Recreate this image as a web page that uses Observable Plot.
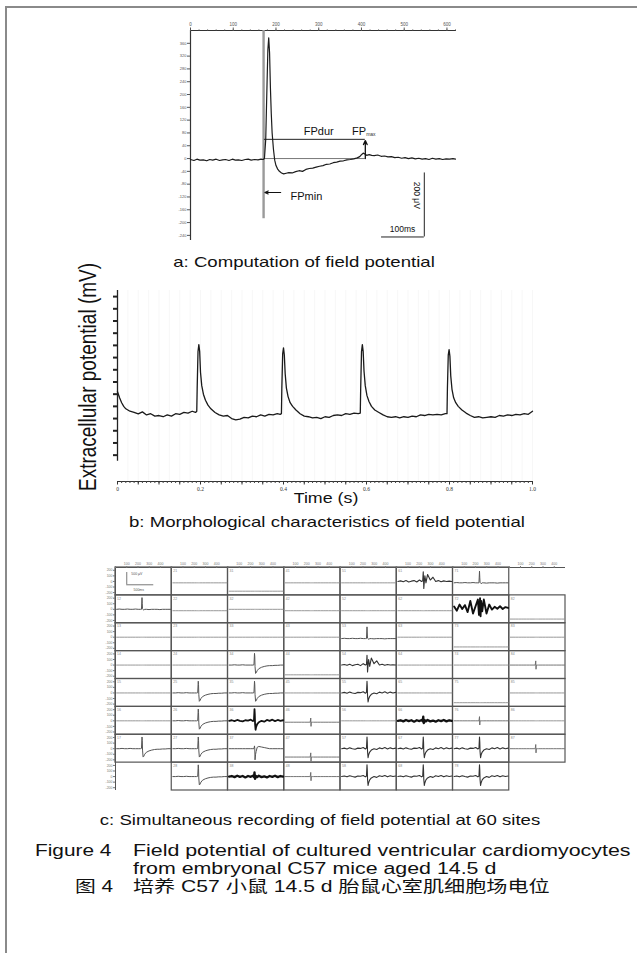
<!DOCTYPE html>
<html><head><meta charset="utf-8">
<script src="https://cdn.jsdelivr.net/npm/d3@7"></script>
<script src="https://cdn.jsdelivr.net/npm/@observablehq/plot@0.6"></script>
<style>
body{margin:0;background:#fff}
#page{position:relative;width:637px;height:953px;overflow:hidden;background:#fff;font-family:"Liberation Sans",Arial,"Noto Sans CJK SC",sans-serif;color:#111}
.abs{position:absolute}
.anchor{position:absolute;width:0;height:0}
.anchor > span{position:absolute;left:0;top:0;white-space:nowrap;line-height:1.15}
</style></head><body>
<div id="page">
  <div class="abs" style="left:5px;top:6px;width:660px;height:980px;border:2px solid #8a8a8a;box-sizing:border-box"></div>
  <div id="pa" class="abs" style="left:150px;top:10px"></div>
  <div id="pb" class="abs" style="left:70px;top:280px"></div>
  <div id="pc" class="abs" style="left:95px;top:553px"></div>
</div>
<script>
// ---------- Panel a : single field potential (ms, µV) ----------
const traceA = [
[0,-3],[8,-6],[15,-2],[22,-5],[30,-4],[38,-7],[45,-3],[52,-5],[60,-2],[68,-6],[75,-4],[82,-3],[90,-6],[98,-2],[105,-5],[112,-4],[120,-6],[128,-3],[135,-2],[142,-5],[150,-3],[158,-4],[165,-2],[170,-3],
[173,0],[176,60],[179,230],[181,340],[183,377],[185,330],[187,220],[189,140],[191,80],[194,30],[197,-5],[200,-22],[204,-33],[208,-40],[213,-45],[218,-48],[224,-46],[230,-44],[238,-45],[246,-41],[254,-38],[262,-40],[270,-34],[278,-31],[286,-30],[294,-27],[302,-24],[310,-22],[318,-18],[326,-17],[334,-13],[342,-11],[350,-8],[358,-7],[366,-4],[374,-3],[382,-1],[390,2],[396,6],[400,12],[404,17],[408,14],[412,10],[418,12],[424,10],[430,9],[438,11],[446,7],[454,8],[462,5],[470,6],[478,3],[486,4],[494,1],[502,3],[510,0],[518,2],[526,-1],[534,1],[542,-2],[550,0],[558,-3],[566,1],[574,-2],[582,0],[590,-3],[598,-1],[606,-2],[614,0],[620,-2]
];
const stimTime = 171;          // ms, stimulus marker
const stimBottom = -188;       // µV
const fpdurStart = 173, fpdurEnd = 409, fpdurLevel = 60;
const fpminLevel = -106, fpminFrom = 211, fpminTo = 174;
const scaleBarUV = [-245, -45], scaleBarMs = [447, 547];
const aTopTicks = [0,100,200,300,400,500,600];
const aTopLabels = ["0","100","200","300","400","500","600"];
const aTopMinor = [0,20,40,60,80,100,120,140,160,180,200,220,240,260,280,300,320,340,360,380,400,420,440,460,480,500,520,540,560,580,600,620];
const aLeftTicks = [-240,-200,-160,-120,-80,-40,0,40,80,120,160,200,240,280,320,360];

// ---------- Panel b : 1 s recording (s, mV) ----------
const traceB = [
[0,0.17],[0.005,0.12],[0.01,0.08],[0.015,0.05],[0.02,0.03],[0.025,0.02],[0.03,0.01],[0.04,0.0],[0.05,-0.012],[0.06,0.005],[0.07,-0.02],[0.08,-0.01],[0.09,-0.03],[0.10,-0.025],[0.11,-0.035],[0.12,-0.02],[0.13,-0.03],[0.14,-0.01],[0.15,-0.015],[0.16,0.0],[0.17,-0.005],[0.18,0.01],[0.188,0.0],[0.191,0.01],
[0.192,0.2],[0.194,0.5],[0.196,0.556],[0.198,0.5],[0.200,0.33],[0.203,0.22],[0.207,0.15],[0.212,0.1],[0.218,0.06],[0.225,0.03],[0.235,0.0],[0.245,-0.02],[0.255,-0.03],[0.265,-0.025],[0.275,-0.05],[0.285,-0.06],[0.295,-0.055],[0.305,-0.04],[0.315,-0.045],[0.325,-0.03],[0.335,-0.035],[0.345,-0.02],[0.355,-0.03],[0.365,-0.015],[0.375,-0.02],[0.385,-0.01],[0.392,-0.015],[0.395,-0.01],
[0.396,0.2],[0.398,0.48],[0.400,0.53],[0.402,0.47],[0.404,0.32],[0.407,0.2],[0.411,0.13],[0.416,0.08],[0.422,0.05],[0.43,0.02],[0.44,-0.01],[0.45,-0.03],[0.46,-0.035],[0.47,-0.045],[0.48,-0.04],[0.49,-0.05],[0.50,-0.035],[0.51,-0.04],[0.52,-0.025],[0.53,-0.02],[0.54,-0.025],[0.55,-0.01],[0.56,-0.015],[0.57,-0.005],[0.58,-0.01],[0.585,-0.005],
[0.586,0.2],[0.588,0.5],[0.590,0.556],[0.592,0.5],[0.594,0.34],[0.597,0.22],[0.601,0.14],[0.606,0.09],[0.612,0.05],[0.62,0.02],[0.63,0.0],[0.64,-0.02],[0.65,-0.035],[0.66,-0.04],[0.67,-0.035],[0.68,-0.045],[0.69,-0.035],[0.70,-0.04],[0.71,-0.03],[0.72,-0.035],[0.73,-0.02],[0.74,-0.025],[0.75,-0.015],[0.76,-0.02],[0.77,-0.015],[0.78,-0.02],[0.79,-0.01],[0.794,-0.01],
[0.795,0.2],[0.797,0.47],[0.799,0.515],[0.801,0.46],[0.803,0.3],[0.806,0.19],[0.81,0.12],[0.815,0.08],[0.821,0.05],[0.83,0.02],[0.84,-0.005],[0.85,-0.025],[0.86,-0.04],[0.87,-0.035],[0.88,-0.045],[0.89,-0.04],[0.90,-0.035],[0.91,-0.04],[0.92,-0.025],[0.93,-0.03],[0.94,-0.02],[0.95,-0.025],[0.96,-0.015],[0.97,-0.02],[0.98,-0.01],[0.99,-0.015],[1.0,0.01]
];
const bXLabels = [0,0.2,0.4,0.6,0.8,1.0];
const bXText = ["0","0.2","0.4","0.6","0.8","1.0"];
const bMajor = d3.range(0, 1.0001, 0.05);
const bMinor = d3.range(0, 1.0001, 0.01);
const bGrid = d3.range(0.025, 1.0001, 0.025);
const bYTicks = d3.range(-0.35, 0.96, 0.1);

// ---------- Panel c : 60-site MEA recording ----------
const cX = [0,.05,.1,.15,.2,.25,.3,.35,.4,.44,.46,.47,.475,.48,.49,.5,.52,.55,.6,.65,.7,.75,.8,.85,.9,.95,1];
const waveFlat     = [0,0,0,0,0,0,0,0,0,0,0,0,0,0,0,0,0,0,0,0,0,0,0,0,0,0,0];
const waveSpikeUp  = [0,.01,0,0,.01,0,0,.01,0,0,0,.42,.2,.02,0,-.03,0,0,-.01,0,0,0,-.01,0,0,0,0];
const waveSpikeDip = [0,0,.01,0,0,.01,0,0,0,0,.01,.42,.3,-.05,-.3,-.28,-.2,-.13,-.08,-.05,-.03,-.02,-.02,-.01,-.01,0,0];
const waveNoisyDip = [0,.02,-.01,.03,0,-.02,.02,.01,.04,-.01,.02,.42,.25,-.1,-.32,-.22,-.12,-.05,0,-.03,.03,.0,.04,-.01,.03,.0,.02];
const waveBurst    = [0,.02,-.01,.03,-.02,.01,.03,-.02,.05,0,.02,.35,.1,-.25,0,.2,-.05,.25,.05,.15,0,.03,-.01,.02,0,.01,0];
const waveHeavy    = [.05,-.1,.12,-.04,.1,-.15,.25,-.2,.08,.3,-.25,.15,-.05,.35,-.3,.25,-.12,.3,-.2,.12,-.06,.04,-.03,.06,-.04,.03,0];
const waveBand     = [0,.02,-.02,.03,-.01,.02,-.03,.02,-.01,.03,-.02,.15,.02,-.08,-.03,.02,-.02,.03,-.02,.01,-.03,.02,-.01,.03,-.02,.02,0];
const waveTick     = [0,0,0,0,0,0,0,0,0,0,0,.15,-.15,0,0,0,0,0,0,0,0,0,0,0,0,0,0];
const waveSpikeDown= [0,0,0,0,0,0,0,0,0,0,0,.1,0,-.4,-.2,-.1,.05,.08,.06,.04,.02,0,0,0,0,0,0];
// [row, col, kind, baseline fraction of cell from top]
const sites = [
[1,2,"flat",.55],[1,3,"flat",.85],[1,4,"flat",.55],[1,5,"flat",.55],[1,6,"burst",.5],[1,7,"spikeUp",.55],
[2,1,"spikeUp",.5],[2,2,"flat",.55],[2,3,"flat",.5],[2,4,"flat",.55],[2,5,"flat",.55],[2,6,"flat",.55],[2,7,"heavy",.45],[2,8,"flat",.85],
[3,1,"flat",.5],[3,2,"flat",.5],[3,3,"flat",.5],[3,4,"flat",.5],[3,5,"spikeUp",.55],[3,6,"flat",.5],[3,7,"flat",.85],[3,8,"flat",.5],
[4,1,"flat",.5],[4,2,"flat",.5],[4,3,"spikeDip",.5],[4,4,"flat",.85],[4,5,"burst",.5],[4,6,"flat",.5],[4,7,"flat",.5],[4,8,"tick",.5],
[5,1,"flat",.5],[5,2,"spikeDip",.5],[5,3,"spikeDip",.5],[5,4,"flat",.5],[5,5,"noisyDip",.5],[5,6,"flat",.5],[5,7,"flat",.85],[5,8,"flat",.5],
[6,1,"flat",.5],[6,2,"spikeDip",.5],[6,3,"thickDip",.5],[6,4,"tick",.55],[6,5,"flat",.5],[6,6,"thickBand",.5],[6,7,"tick",.5],[6,8,"flat",.5],
[7,1,"spikeDip",.5],[7,2,"spikeDip",.5],[7,3,"spikeDown",.5],[7,4,"tick",.8],[7,5,"noisyDip",.5],[7,6,"noisyDip",.5],[7,7,"noisyDip",.5],[7,8,"tick",.5],
[8,2,"spikeDip",.5],[8,3,"thickBand",.5],[8,4,"tick",.5],[8,5,"noisyDip",.5],[8,6,"noisyDip",.5],[8,7,"noisyDip",.5]
];
const legendCell = [1,1];
const cTopText = ["", "100", "200", "300", "400"];
const cLeftText = ["200", "100", "0", "-100", "-200"];

// ---------- Captions ----------
const capA = "a: Computation of field potential";
const capB = "b: Morphological characteristics of field potential";
const capC = "c: Simultaneous recording of field potential at 60 sites";
const yLabB = "Extracellular potential (mV)";
const xLabB = "Time (s)";
const figEn = ["Figure 4", "Field potential of cultured ventricular cardiomyocytes", "from embryonal C57 mice aged 14.5 d"];
const figZh = ["图 4", "培养 C57 小鼠 14.5 d 胎鼠心室肌细胞场电位"];

// ================= drawing =================
const page = document.getElementById("page");
function label(txt, x, y, o = {}) {
  const a = document.createElement("div");
  a.className = "anchor"; a.style.left = x + "px"; a.style.top = y + "px";
  const s = document.createElement("span");
  s.textContent = txt;
  s.style.fontSize = (o.size || 15) + "px";
  if (o.family) s.style.fontFamily = o.family;
  if (o.color) s.style.color = o.color;
  const sx = o.sx ?? 1.24;
  if (o.rotate) {
    s.style.transformOrigin = "50% 50%";
    s.style.transform = `translate(-50%,-50%) rotate(${o.rotate}deg) scaleY(${sx})`;
  } else if (o.align === "start") {
    s.style.transformOrigin = "0 50%";
    s.style.transform = `translateY(-50%) scaleX(${sx})`;
  } else {
    s.style.transformOrigin = "50% 50%";
    s.style.transform = `translate(-50%,-50%) scaleX(${sx})`;
  }
  a.appendChild(s); page.appendChild(a);
}

const baseStyle = {background: "transparent", overflow: "visible", fontFamily: "Liberation Sans, Arial, sans-serif", color: "#222"};

// Panel a
const pa = Plot.plot({
  width: 320, height: 240, marginLeft: 40, marginRight: 15, marginTop: 20, marginBottom: 10,
  x: {domain: [0, 620]}, y: {domain: [-256, 400]},
  style: baseStyle,
  marks: [
    Plot.ruleY([400], {stroke: "#333", strokeWidth: 1.2}),
    Plot.ruleX([0], {y1: -256, y2: 400, stroke: "#333", strokeWidth: 1.2}),
    Plot.axisX({anchor: "top", ticks: aTopMinor, tickSize: 1.5, tickFormat: () => "", label: null, color: "#444"}),
    Plot.axisX({anchor: "top", ticks: aTopTicks, tickSize: 3.5, tickPadding: 1, fontSize: 4.5, tickFormat: d => aTopLabels[aTopTicks.indexOf(d)], label: null, color: "#555"}),
    Plot.axisY({anchor: "left", ticks: aLeftTicks, tickSize: 3, tickPadding: 1, fontSize: 4, tickFormat: d => String(d), label: null, color: "#555"}),
    Plot.ruleX([stimTime], {y1: stimBottom, y2: 400, stroke: "#9a9a9a", strokeWidth: 2.4}),
    Plot.ruleY([0], {x1: fpdurStart, x2: fpdurEnd, stroke: "#555", strokeWidth: 0.8}),
    Plot.ruleY([fpdurLevel], {x1: fpdurStart, x2: fpdurEnd, stroke: "#222", strokeWidth: 1}),
    Plot.line(traceA, {x: d => d[0], y: d => d[1], stroke: "#1c1c1c", strokeWidth: 1.2}),
    Plot.arrow([fpdurEnd], {x1: fpdurEnd, y1: 0, x2: fpdurEnd, y2: fpdurLevel - 4, headLength: 5, headAngle: 50, stroke: "#111", strokeWidth: 1.3}),
    Plot.arrow([fpminLevel], {x1: fpminFrom, y1: fpminLevel, x2: fpminTo, y2: fpminLevel, headLength: 5, headAngle: 50, stroke: "#111", strokeWidth: 1.1}),
    Plot.text(["FPdur"], {x: 300, y: 84, fontSize: 11, fill: "#111"}),
    Plot.text(["FP"], {x: 378, y: 84, fontSize: 11, textAnchor: "start", fill: "#111"}),
    Plot.text(["max"], {x: 411, y: 76, fontSize: 5, textAnchor: "start", fill: "#333"}),
    Plot.text(["FPmin"], {x: 234, y: -118, fontSize: 11, textAnchor: "start", fill: "#111"}),
    Plot.ruleX([scaleBarMs[1]], {y1: scaleBarUV[0], y2: scaleBarUV[1], stroke: "#222", strokeWidth: 1}),
    Plot.ruleY([scaleBarUV[0]], {x1: scaleBarMs[0], x2: scaleBarMs[1], stroke: "#222", strokeWidth: 1}),
    Plot.text(["200 μV"], {x: 530, y: -115, rotate: 90, fontSize: 8.5, fill: "#111"}),
    Plot.text(["100ms"], {x: 496, y: -222, fontSize: 8.5, fill: "#111"})
  ]
});
document.getElementById("pa").appendChild(pa);

// Panel b
const pb = Plot.plot({
  width: 480, height: 215, marginLeft: 47, marginRight: 18, marginTop: 10, marginBottom: 14,
  x: {domain: [0, 1]}, y: {domain: [-0.566, 1.0]},
  style: baseStyle,
  marks: [
    Plot.ruleX(bGrid, {y1: -0.566, y2: 1.0, stroke: "#f5f5f5", strokeWidth: 0.8}),
    Plot.ruleX([0], {y1: -0.4, y2: 1.0, stroke: "#222", strokeWidth: 1.3}),
    Plot.axisY({anchor: "left", ticks: bYTicks, tickSize: 4, tickFormat: () => "", strokeWidth: 2, label: null, color: "#222"}),
    Plot.ruleY([-0.566], {stroke: "#333", strokeWidth: 1}),
    Plot.axisX({ticks: bMinor, tickSize: 2, tickFormat: () => "", label: null, color: "#444"}),
    Plot.axisX({ticks: bMajor, tickSize: 3.5, tickFormat: () => "", label: null, color: "#333"}),
    Plot.axisX({ticks: bXLabels, tickSize: 0, tickPadding: 6, fontSize: 5.5, fontFamily: "Liberation Serif, serif", tickFormat: d => bXText[bXLabels.indexOf(d)], label: null, color: "#333"}),
    Plot.line(traceB, {x: d => d[0], y: d => d[1], stroke: "#1a1a1a", strokeWidth: 1.3})
  ]
});
document.getElementById("pb").appendChild(pb);

// Panel c
const cStyles = {
  flat:      {tpl: waveFlat,      stroke: "#8c8c8c", w: 0.9},
  spikeUp:   {tpl: waveSpikeUp,   stroke: "#555",    w: 1},
  spikeDip:  {tpl: waveSpikeDip,  stroke: "#555",    w: 1},
  spikeDown: {tpl: waveSpikeDown, stroke: "#555",    w: 1},
  tick:      {tpl: waveTick,      stroke: "#666",    w: 0.9},
  noisyDip:  {tpl: waveNoisyDip,  stroke: "#333",    w: 1.1},
  burst:     {tpl: waveBurst,     stroke: "#333",    w: 1.1},
  heavy:     {tpl: waveHeavy,     stroke: "#111",    w: 1.9},
  thickBand: {tpl: waveBand,      stroke: "#111",    w: 2.3},
  thickDip:  {tpl: waveNoisyDip,  stroke: "#111",    w: 1.8}
};
const cLines = [];
sites.forEach(([row, col, kind, base]) => {
  cStyles[kind].tpl.forEach((v, i) => cLines.push({id: row * 10 + col, kind, x: col - 1 + 0.02 + cX[i] * 0.96, y: row - 1 + base - v}));
});
const framed = [legendCell, ...sites];
const cTopTicks = d3.range(0, 8, 0.2);
const cLeftTicks = d3.range(0, 8).flatMap(r => [0.1, 0.3, 0.5, 0.7, 0.9].map(f => r + f));
const pc = Plot.plot({
  width: 480, height: 242, marginLeft: 20, marginRight: 10, marginTop: 14, marginBottom: 5,
  x: {domain: [0, 8]}, y: {domain: [0, 8], reverse: true},
  style: baseStyle,
  marks: [
    Plot.rect(framed, {x1: d => d[1] - 1, x2: d => d[1], y1: d => d[0] - 1, y2: d => d[0], fill: "none", stroke: "#555", strokeWidth: 1.2}),
    Plot.ruleY([0], {stroke: "#555", strokeWidth: 1}),
    Plot.ruleX([0], {stroke: "#555", strokeWidth: 1}),
    Plot.axisX({anchor: "top", ticks: cTopTicks, tickSize: 2, tickPadding: 1, fontSize: 3.5, tickFormat: d => cTopText[Math.round((d % 1) * 5) % 5], label: null, color: "#777"}),
    Plot.axisY({anchor: "left", ticks: cLeftTicks, tickSize: 2, tickPadding: 1, fontSize: 3.5, tickFormat: d => cLeftText[Math.round(((d % 1) - 0.1) / 0.2)], label: null, color: "#777"}),
    Plot.text(sites, {x: d => d[1] - 1, y: d => d[0] - 1, text: d => `${d[1]}${d[0]}`, dx: 1.5, dy: 3, fontSize: 3.5, textAnchor: "start", fill: "#888"}),
    ...Object.keys(cStyles).map(k => Plot.line(cLines.filter(d => d.kind === k), {x: "x", y: "y", z: "id", stroke: cStyles[k].stroke, strokeWidth: cStyles[k].w})),
    Plot.ruleX([0.2], {y1: 0.18, y2: 0.62, stroke: "#555", strokeWidth: 0.8}),
    Plot.ruleY([0.62], {x1: 0.2, x2: 0.68, stroke: "#555", strokeWidth: 0.8}),
    Plot.text(["500 μV"], {x: 0.28, y: 0.22, fontSize: 3.5, textAnchor: "start", fill: "#555"}),
    Plot.text(["500ms"], {x: 0.32, y: 0.8, fontSize: 3.5, textAnchor: "start", fill: "#555"})
  ]
});
document.getElementById("pc").appendChild(pc);

// Captions
label(capA, 304, 262, {size: 15});
label(yLabB, 88, 377, {size: 19, rotate: -90});
label(xLabB, 326, 498, {size: 15.5, sx: 1.15});
label(capB, 327, 522, {size: 15});
label(capC, 320, 820, {size: 15});
label(figEn[0], 35, 851, {size: 16, align: "start", sx: 1.3});
label(figEn[1], 133, 851, {size: 16, align: "start", sx: 1.335});
label(figEn[2], 133, 869, {size: 16, align: "start", sx: 1.335});
label(figZh[0], 75, 887, {size: 16, align: "start", sx: 1.3});
label(figZh[1], 133, 887, {size: 16, align: "start", sx: 1.32});
</script>
</body></html>
